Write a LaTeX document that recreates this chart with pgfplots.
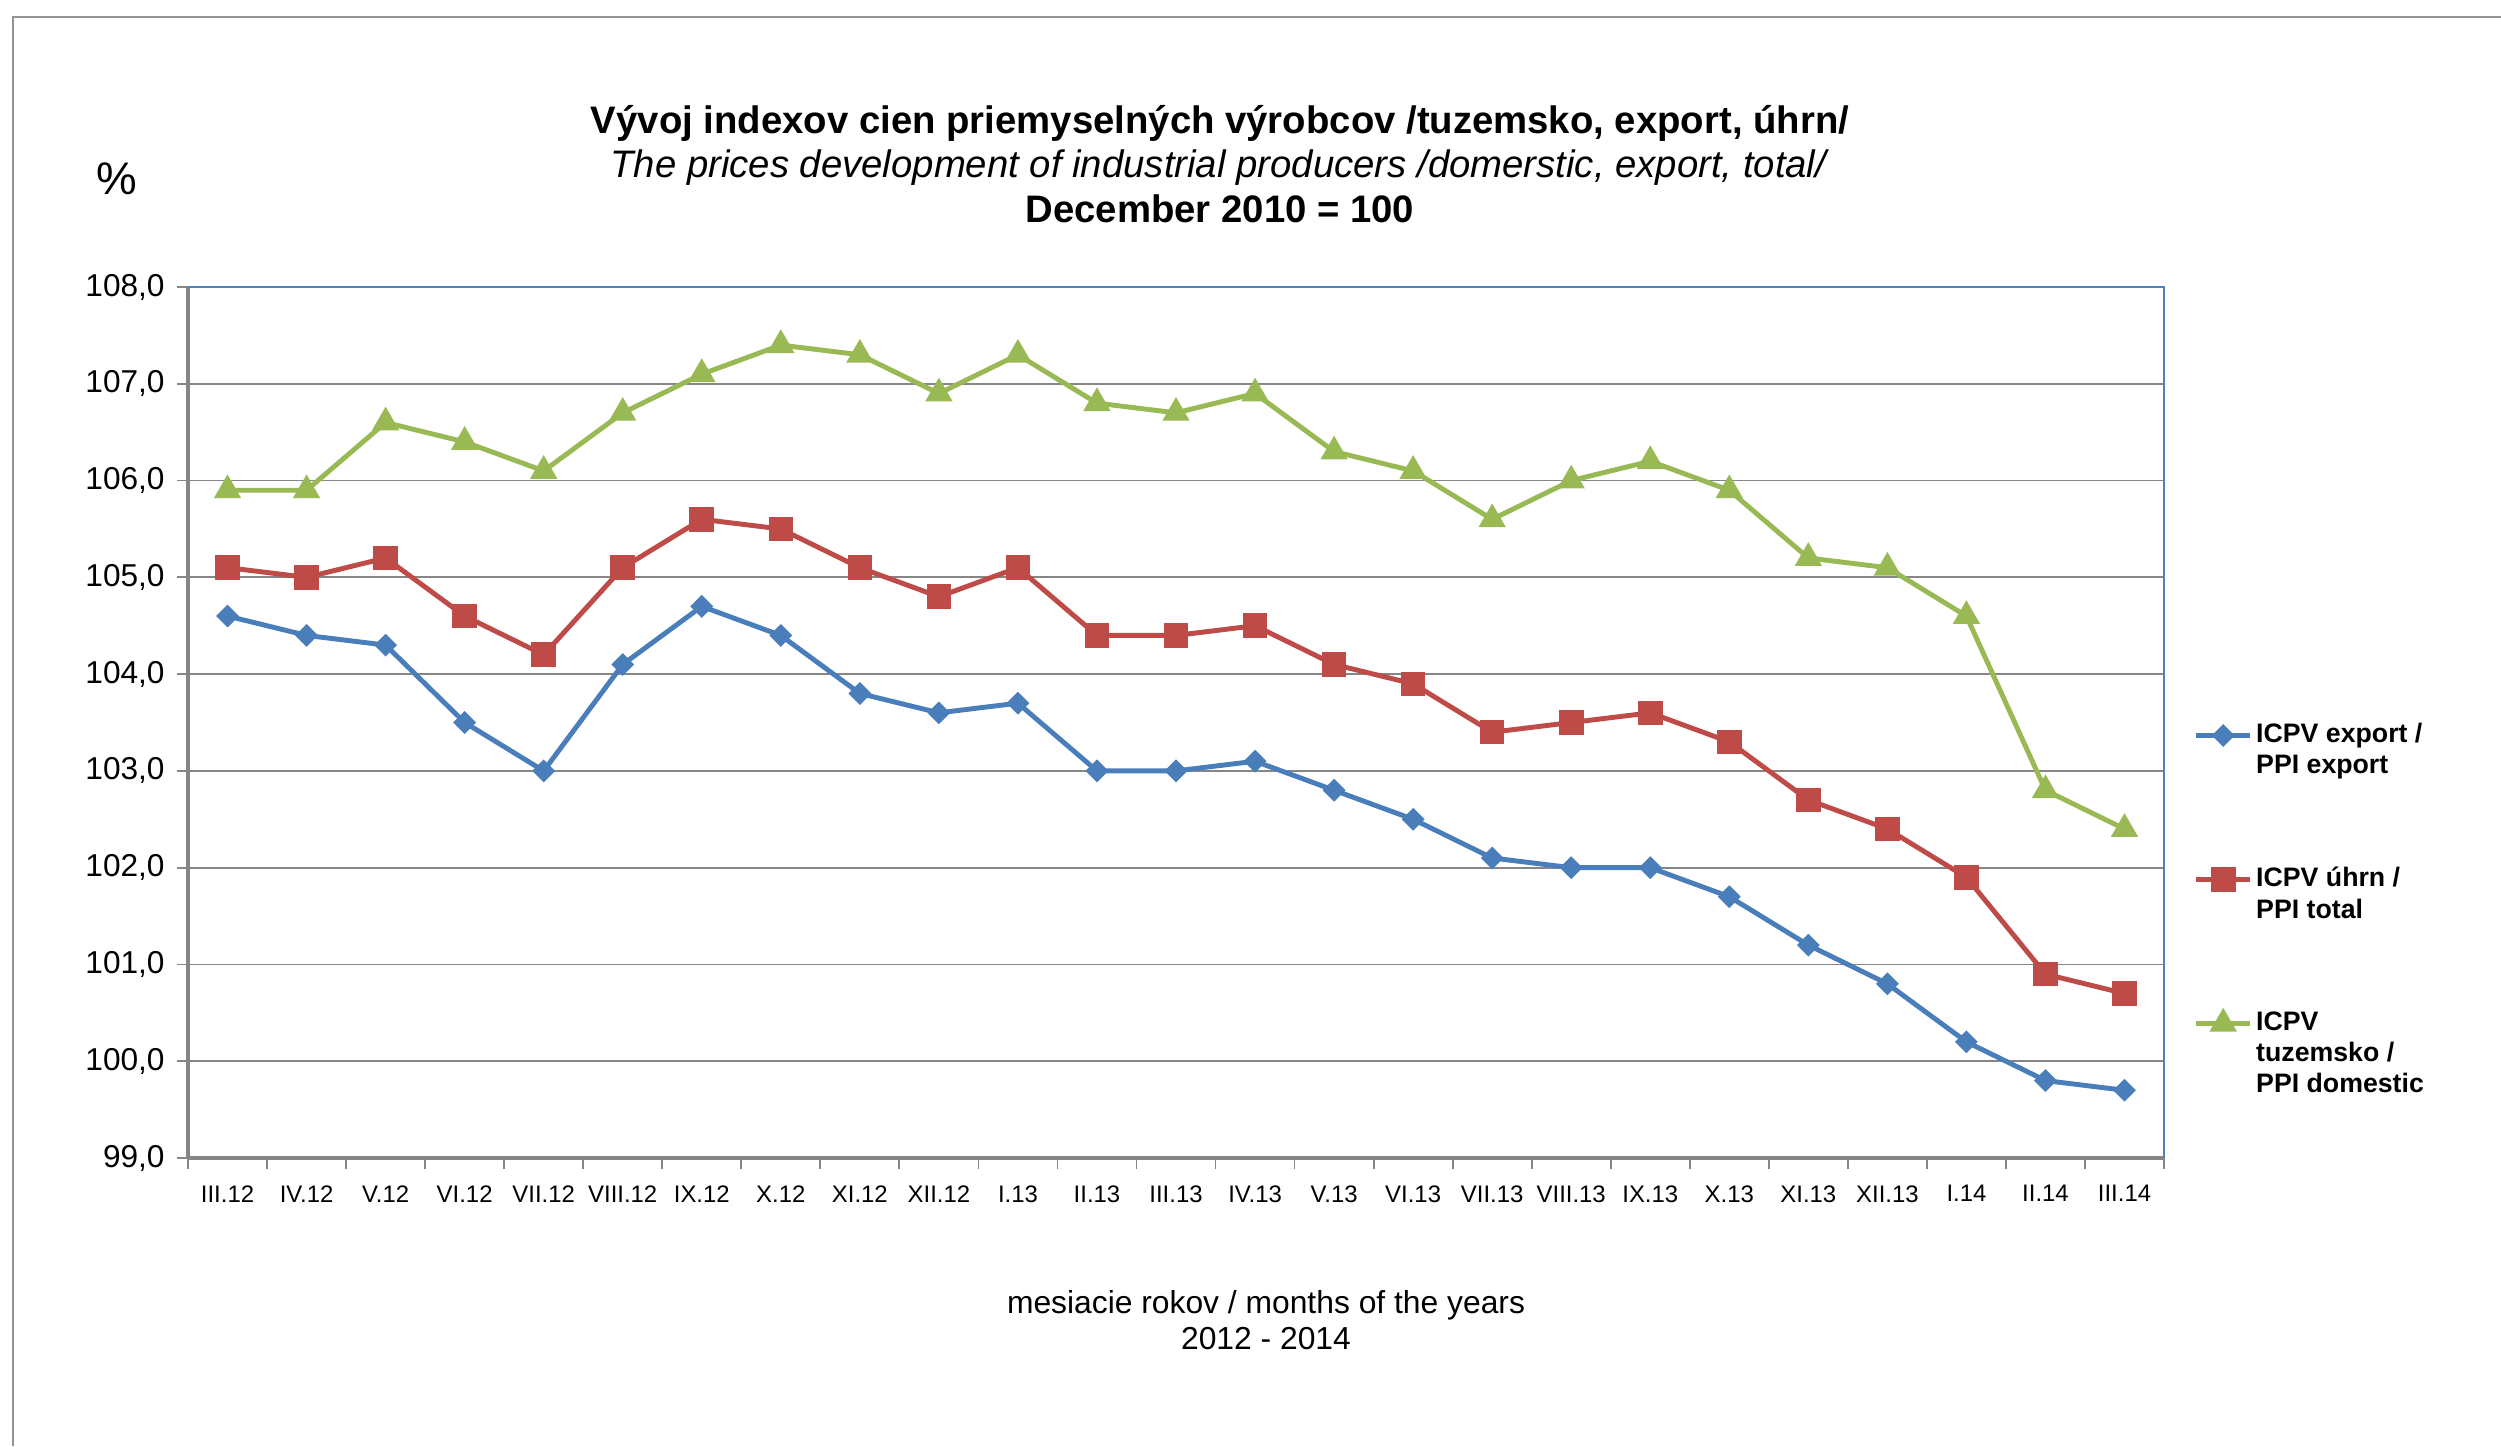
\documentclass[border=0pt]{standalone}
\usepackage{fontspec}
\setmainfont{Liberation Sans}
\usepackage{pgfplots}
\pgfplotsset{compat=1.18}
\definecolor{cblue}{HTML}{4A7EBB}
\definecolor{cred}{HTML}{BE4B48}
\definecolor{cgreen}{HTML}{98B954}
\definecolor{gridgray}{HTML}{868686}
\definecolor{frameblue}{HTML}{4F81BD}
\newcommand{\legtxt}[1]{\parbox[t]{28mm}{\raggedright #1}}
\begin{document}
\begin{tikzpicture}
\useasboundingbox (0,0) rectangle (250.1mm,144.6mm);
\draw[gray!85, line width=0.7pt] (1.3mm,0) -- (1.3mm,142.9mm) -- (250.1mm,142.9mm);
\node[align=center, font=\fontsize{10.9}{12.6}\selectfont] at (122mm,128.2mm)
  {\textbf{Vývoj indexov cien priemyselných výrobcov /tuzemsko, export, úhrn/}\\
   \textit{The prices development of industrial producers /domerstic, export, total/}\\
   \textbf{December 2010 = 100}};
\node[font=\fontsize{13}{15}\selectfont] at (11.7mm,126.7mm) {\%};
\node[align=center, font=\fontsize{9.05}{10.4}\selectfont] at (126.6mm,12.6mm)
  {mesiacie rokov / months of the years\\2012 - 2014};
\begin{axis}[
  at={(18.8mm,28.8mm)}, anchor=south west,
  scale only axis, width=197.6mm, height=87.1mm,
  xmin=-0.5, xmax=24.5, ymin=99, ymax=108,
  axis lines*=left,
  axis line style={-, gridgray, line width=0.9pt},
  tick align=outside,
  major tick length=1.1mm,
  tick style={gridgray, line width=0.5pt},
  xtick={-0.5,0.5,...,24.5},
  xticklabels={},
  extra x ticks={0,1,...,24},
  extra x tick labels={III.12,IV.12,V.12,VI.12,VII.12,VIII.12,IX.12,X.12,XI.12,XII.12,I.13,II.13,III.13,IV.13,V.13,VI.13,VII.13,VIII.13,IX.13,X.13,XI.13,XII.13,I.14,II.14,III.14},
  extra x tick style={major tick length=0pt, grid=none},
  xticklabel style={font=\fontsize{6.8}{8}\selectfont, yshift=-1.5mm},
  ytick={99,100,...,108},
  yticklabel style={font=\fontsize{9}{10}\selectfont},
  /pgf/number format/.cd, fixed, fixed zerofill, precision=1, use comma, assume math mode=true,
  /pgfplots/.cd,
  ymajorgrids,
  grid style={gridgray, line width=0.5pt},
  every axis plot/.append style={line width=1.4pt},
  legend image code/.code={\draw[mark repeat=2,mark phase=2] plot coordinates {(0mm,0mm) (2.7mm,0mm) (5.4mm,0mm)};},
  legend cell align=left,
  legend style={at={(1.0147,0.50)}, anchor=north west, draw=none, fill=none,
    inner sep=0pt, row sep=11.95mm, column sep=0.35mm,
    nodes={inner sep=0pt}, font=\fontsize{7.6}{8.9}\selectfont\bfseries},
  extra description/.code={\draw[frameblue, line width=0.6pt] (rel axis cs:0,1) -- (rel axis cs:1,1) -- (rel axis cs:1,0);},
]
\addplot[cblue, mark=square*, mark size=1.6pt, mark options={rotate=45, solid}] coordinates {
(0,104.6) (1,104.4) (2,104.3) (3,103.5) (4,103.0) (5,104.1) (6,104.7) (7,104.4) (8,103.8) (9,103.6)
(10,103.7) (11,103.0) (12,103.0) (13,103.1) (14,102.8) (15,102.5) (16,102.1) (17,102.0) (18,102.0)
(19,101.7) (20,101.2) (21,100.8) (22,100.2) (23,99.8) (24,99.7)};
\addlegendentry{\legtxt{ICPV export /\\PPI export}}
\addplot[cred, mark=square*, mark size=2.8pt, mark options={solid}] coordinates {
(0,105.1) (1,105.0) (2,105.2) (3,104.6) (4,104.2) (5,105.1) (6,105.6) (7,105.5) (8,105.1) (9,104.8)
(10,105.1) (11,104.4) (12,104.4) (13,104.5) (14,104.1) (15,103.9) (16,103.4) (17,103.5) (18,103.6)
(19,103.3) (20,102.7) (21,102.4) (22,101.9) (23,100.9) (24,100.7)};
\addlegendentry{\legtxt{ICPV úhrn /\\PPI total}}
\addplot[cgreen, mark=triangle*, mark size=3.1pt, mark options={solid}] coordinates {
(0,105.9) (1,105.9) (2,106.6) (3,106.4) (4,106.1) (5,106.7) (6,107.1) (7,107.4) (8,107.3) (9,106.9)
(10,107.3) (11,106.8) (12,106.7) (13,106.9) (14,106.3) (15,106.1) (16,105.6) (17,106.0) (18,106.2)
(19,105.9) (20,105.2) (21,105.1) (22,104.6) (23,102.8) (24,102.4)};
\addlegendentry{\legtxt{ICPV\\tuzemsko /\\PPI domestic}}
\end{axis}
\end{tikzpicture}
\end{document}
